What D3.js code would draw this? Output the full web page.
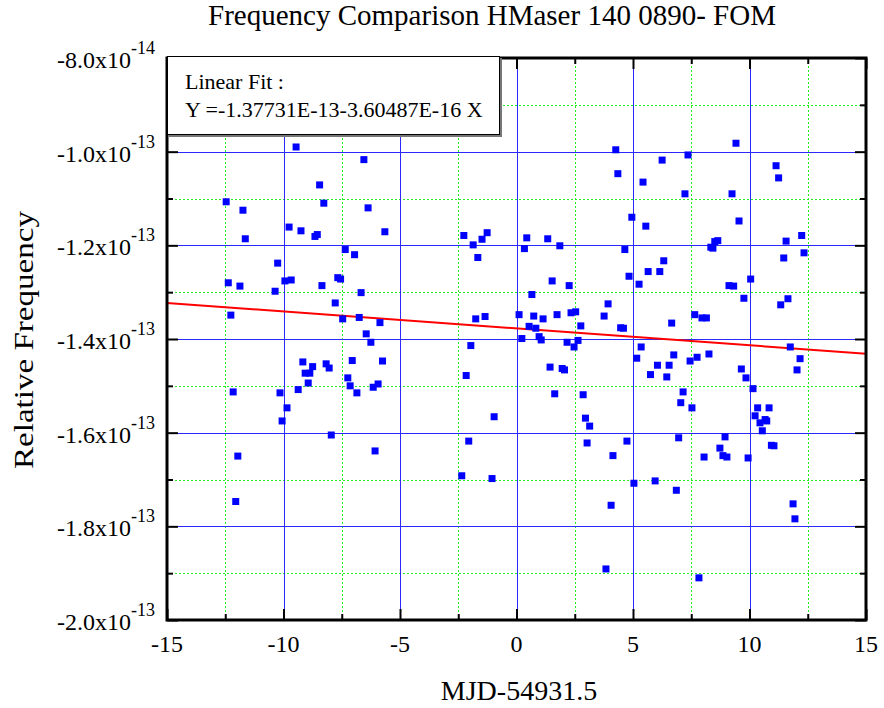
<!DOCTYPE html>
<html>
<head>
<meta charset="utf-8">
<script src="https://cdn.jsdelivr.net/npm/d3@7"></script>
<style>
  body { margin: 0; background: #fff; }
  text { font-family: "Liberation Serif", "Times New Roman", serif; fill: #000; }
</style>
</head>
<body>
<svg id="chart" width="884" height="708"></svg>
<script>
// MJD - 54931.5 (days)
const mjd = [-9.46,-6.55,-8.45,-12.46,-11.74,-8.27,-6.37,-11.64,-9.76,-9.25,-8.65,-8.55,-5.65,-2.26,-1.26,-1.48,-1.86,-1.66,-7.35,-6.95,
  -10.25,-12.37,-11.87,-9.94,-9.67,-10.36,-7.67,-7.55,-8.35,-6.67,-7.78,-12.26,-7.46,-6.75,-5.86,-6.45,-1.75,-1.35,0.11,
  4.26,6.25,7.36,9.42,11.14,11.25,4.35,5.43,7.23,9.25,4.95,5.55,9.55,0.44,0.34,1.34,1.86,4.65,8.34,8.43,8.51,
  8.64,11.57,12.24,11.47,12.34,6.32,5.65,6.15,4.83,5.26,1.53,2.26,10.05,9.12,9.32,0.66,9.76,11.65,11.34,3.93,
  0.74,1.14,1.74,2.34,2.54,3.76,2.76,7.65,7.96,8.15,6.66,4.47,4.59,0.54,0.83,0.23,0.97,2.64,1.06,2.17,
  2.47,5.35,5.16,6.75,7.75,8.26,7.45,6.05,6.55,5.75,6.45,1.44,1.96,2.06,1.64,2.86,2.96,3.14,3.03,4.74,
  4.14,7.15,7.05,7.53,6.96,8.95,8.73,8.86,9.03,8.05,9.94,9.65,9.85,10.15,10.35,10.84,10.24,10.45,10.67,10.74,
  10.55,10.94,11.05,11.75,12.17,12.04,5.04,5.95,6.86,4.06,11.87,11.95,3.84,7.83,
  -6.25,-1.96,-9.17,-8.75,-8.17,-8.04,-7.05,-5.75,-9.07,-8.87,-8.94,-9.37,-12.16,-10.15,-7.24,-7.14,-6.85,-6.15,-5.94,-2.16,
  -9.85,-10.06,-7.95,-6.07,-11.96,-0.96,-2.05,-2.35,-1.05,-12.05];

// relative frequency, in units of 1e-13
const relFreq = [-0.990,-1.017,-1.071,-1.107,-1.125,-1.110,-1.120,-1.186,-1.161,-1.169,-1.181,-1.177,-1.171,-1.179,-1.173,-1.187,-1.199,-1.226,-1.209,-1.220,
  -1.238,-1.280,-1.287,-1.276,-1.274,-1.298,-1.269,-1.272,-1.286,-1.301,-1.323,-1.349,-1.357,-1.354,-1.365,-1.389,-1.357,-1.352,-1.348,
  -0.996,-1.018,-1.007,-0.982,-1.030,-1.056,-1.047,-1.065,-1.090,-1.090,-1.140,-1.159,-1.148,-1.184,-1.207,-1.186,-1.201,-1.209,-1.204,-1.206,-1.192,
  -1.190,-1.191,-1.179,-1.227,-1.216,-1.233,-1.256,-1.256,-1.266,-1.283,-1.276,-1.286,-1.272,-1.286,-1.287,-1.305,-1.313,-1.314,-1.327,-1.325,
  -1.351,-1.357,-1.348,-1.344,-1.342,-1.351,-1.372,-1.348,-1.355,-1.355,-1.366,-1.376,-1.377,-1.373,-1.377,-1.399,-1.395,-1.403,-1.402,-1.407,
  -1.417,-1.417,-1.441,-1.434,-1.439,-1.432,-1.447,-1.456,-1.456,-1.476,-1.481,-1.460,-1.463,-1.466,-1.517,-1.519,-1.569,-1.586,-1.622,-1.618,
  -1.649,-1.513,-1.536,-1.547,-1.611,-1.609,-1.633,-1.649,-1.652,-1.652,-1.654,-1.464,-1.483,-1.506,-1.547,-1.547,-1.564,-1.579,-1.572,-1.575,
  -1.596,-1.627,-1.628,-1.417,-1.442,-1.466,-1.708,-1.703,-1.723,-1.755,-1.752,-1.784,-1.891,-1.910,
  -1.407,-1.414,-1.449,-1.459,-1.453,-1.462,-1.446,-1.447,-1.473,-1.473,-1.494,-1.508,-1.513,-1.515,-1.483,-1.500,-1.515,-1.503,-1.496,-1.478,
  -1.547,-1.575,-1.605,-1.639,-1.650,-1.566,-1.618,-1.692,-1.698,-1.747];

const xMajor = [-15, -10, -5, 0, 5, 10, 15];
const xMinor = [-12.5, -7.5, -2.5, 2.5, 7.5, 12.5];
const yMajor = [-0.8, -1.0, -1.2, -1.4, -1.6, -1.8, -2.0];
const yMinor = [-0.9, -1.1, -1.3, -1.5, -1.7, -1.9];
const yMantissa = ["-8.0", "-1.0", "-1.2", "-1.4", "-1.6", "-1.8", "-2.0"];
const yExponent = ["-14", "-13", "-13", "-13", "-13", "-13", "-13"];

// linear fit (units of 1e-13)
const fitIntercept = -1.37731;
const fitSlope = -0.00360487;
const fitText = ["Linear Fit :", "Y =-1.37731E-13-3.60487E-16 X"];

const svg = d3.select("#chart");
const pLeft = 167, pRight = 866, pTop = 58, pBottom = 620;

const x = d3.scaleLinear().domain([-15, 15]).range([pLeft, pRight]);
const y = d3.scaleLinear().domain([-2.0, -0.8]).range([pBottom, pTop]);

// title
svg.append("text")
    .attr("x", 492).attr("y", 25)
    .attr("text-anchor", "middle")
    .style("font-size", "29px")
    .text("Frequency Comparison HMaser 140 0890- FOM");

// grid, minor first
const grid = svg.append("g");
grid.selectAll(".vminor").data(xMinor).enter().append("line")
    .attr("x1", d => Math.round(x(d)) + 0.5).attr("x2", d => Math.round(x(d)) + 0.5)
    .attr("y1", pTop).attr("y2", pBottom)
    .attr("stroke", "#22ee22").attr("stroke-dasharray", "2,2");
grid.selectAll(".hminor").data(yMinor).enter().append("line")
    .attr("y1", d => Math.round(y(d)) + 0.5).attr("y2", d => Math.round(y(d)) + 0.5)
    .attr("x1", pLeft).attr("x2", pRight)
    .attr("stroke", "#22ee22").attr("stroke-dasharray", "2,2");
grid.selectAll(".vmajor").data(xMajor.slice(1, -1)).enter().append("line")
    .attr("x1", d => Math.round(x(d)) + 0.5).attr("x2", d => Math.round(x(d)) + 0.5)
    .attr("y1", pTop).attr("y2", pBottom)
    .attr("stroke", "#2a2aff");
grid.selectAll(".hmajor").data(yMajor.slice(1, -1)).enter().append("line")
    .attr("y1", d => Math.round(y(d)) + 0.5).attr("y2", d => Math.round(y(d)) + 0.5)
    .attr("x1", pLeft).attr("x2", pRight)
    .attr("stroke", "#2a2aff");

// fit line
svg.append("line")
    .attr("x1", x(-15)).attr("y1", y(fitIntercept + fitSlope * -15))
    .attr("x2", x(15)).attr("y2", y(fitIntercept + fitSlope * 15))
    .attr("stroke", "#ff0000").attr("stroke-width", 2);

// data points
const pts = mjd.map((d, i) => [d, relFreq[i]]);
svg.append("g").selectAll("rect").data(pts).enter().append("rect")
    .attr("x", d => x(d[0]) - 3.5)
    .attr("y", d => y(d[1]) - 3.5)
    .attr("width", 7).attr("height", 7)
    .attr("fill", "#0000ff");

// ticks on all four sides, pointing inwards
function tickAxis(axis, major, minor, transform) {
    const g1 = svg.append("g").attr("transform", transform)
        .call(axis.tickValues(major).tickSize(-11).tickFormat(""));
    const g2 = svg.append("g").attr("transform", transform)
        .call(axis.tickValues(minor).tickSize(-6).tickFormat(""));
    [g1, g2].forEach(g => {
        g.select(".domain").remove();
        g.selectAll("line").attr("stroke", "#000").attr("stroke-width", 2);
    });
}
tickAxis(d3.axisBottom(x), xMajor, xMinor, `translate(0,${pBottom})`);
tickAxis(d3.axisTop(x), xMajor, xMinor, `translate(0,${pTop})`);
tickAxis(d3.axisLeft(y), yMajor, yMinor, `translate(${pLeft},0)`);
tickAxis(d3.axisRight(y), yMajor, yMinor, `translate(${pRight},0)`);

// frame
svg.append("rect")
    .attr("x", pLeft).attr("y", pTop)
    .attr("width", pRight - pLeft).attr("height", pBottom - pTop)
    .attr("fill", "none").attr("stroke", "#000").attr("stroke-width", 3);

// x tick labels
svg.append("g").selectAll("text").data(xMajor).enter().append("text")
    .attr("x", d => x(d)).attr("y", pBottom + 32)
    .attr("text-anchor", "middle")
    .style("font-size", "24px")
    .text(d => d);

// y tick labels with superscript exponent
const yl = svg.append("g").selectAll("text").data(yMajor).enter().append("text")
    .attr("x", 155).attr("y", d => y(d) + 10)
    .attr("text-anchor", "end");
yl.append("tspan").style("font-size", "24px").text((d, i) => yMantissa[i] + "x10");
yl.append("tspan").style("font-size", "18px").attr("dy", -14).text((d, i) => yExponent[i]);

// axis titles
svg.append("text")
    .attr("x", 519).attr("y", 700)
    .attr("text-anchor", "middle")
    .style("font-size", "28px")
    .text("MJD-54931.5");

svg.append("text")
    .attr("transform", "translate(33,340) rotate(-90)")
    .attr("text-anchor", "middle")
    .style("font-size", "28px")
    .attr("textLength", 258).attr("lengthAdjust", "spacingAndGlyphs")
    .text("Relative Frequency");

// fit legend box
const lg = svg.append("g");
lg.append("rect")
    .attr("x", 169).attr("y", 58).attr("width", 333).attr("height", 79)
    .attr("fill", "#777");
lg.append("rect")
    .attr("x", 167.5).attr("y", 56.5).attr("width", 332).attr("height", 78)
    .attr("fill", "#fff").attr("stroke", "#000").attr("stroke-width", 1);
lg.selectAll("text").data(fitText).enter().append("text")
    .attr("x", 185).attr("y", (d, i) => 89 + i * 28)
    .style("font-size", "22px")
    .text(d => d);
</script>
</body>
</html>
